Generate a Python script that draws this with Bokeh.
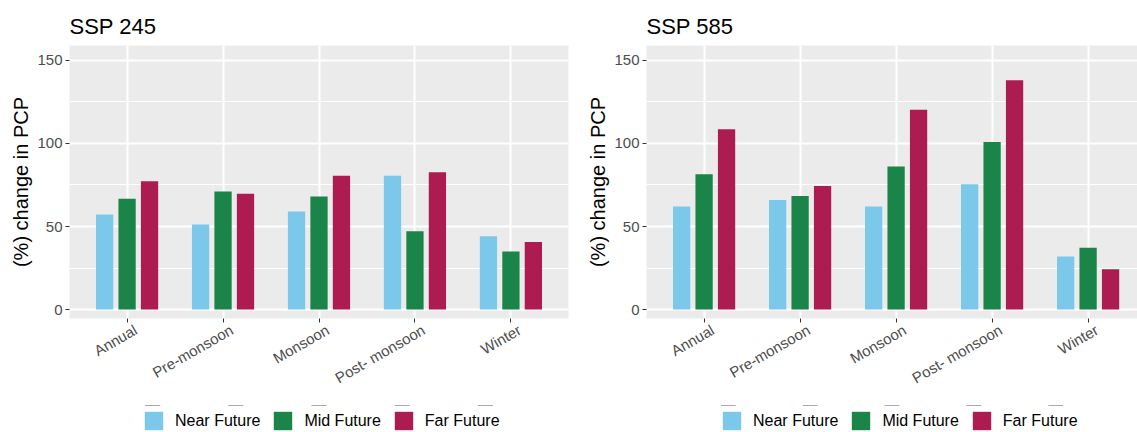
import math
from bokeh.plotting import figure
from bokeh.models import (ColumnDataSource, Legend, LegendItem, SingleIntervalTicker,
                          FixedTicker, Range1d, LinearAxis)
from bokeh.layouts import row, column
from bokeh.transform import dodge
from bokeh.embed import file_html
from bokeh.resources import INLINE

categories = ["Annual", "Pre-monsoon", "Monsoon", "Post- monsoon", "Winter"]
series = ["Near Future", "Mid Future", "Far Future"]
colors = ["#7CC8EA", "#1B8449", "#AD1C50"]

ssp245_near = [57.2, 51.2, 59.0, 80.5, 44.2]
ssp245_mid = [66.7, 71.1, 68.1, 47.2, 34.9]
ssp245_far = [77.3, 69.7, 80.5, 82.7, 40.6]

ssp585_near = [62.1, 65.9, 62.1, 75.4, 31.9]
ssp585_mid = [81.5, 68.3, 86.1, 100.9, 37.2]
ssp585_far = [108.5, 74.4, 120.3, 138.0, 24.3]

y_ticks_interval = 50
FONT = "Liberation Sans"
LABEL_SHIFT = 0.09  # rotated labels hang to the right of their tick (hjust = 1)
MAIN_H = 405
LEG_H = 27


def make_source(values):
    pos = list(range(1, len(categories) + 1))
    data = dict(x=pos, cat=categories)
    for s, v in zip(series, values):
        data[s] = v
    return pos, ColumnDataSource(data)


def make_panel(title, values, x_end, border_left, frame_width, border_right):
    pos, src = make_source(values)

    p = figure(width=border_left + frame_width + border_right, height=MAIN_H,
               x_range=Range1d(0.4, x_end), y_range=Range1d(-5.4, 159),
               output_backend="svg", toolbar_location=None,
               min_border_left=border_left, min_border_right=border_right,
               min_border_top=45, min_border_bottom=MAIN_H - 45 - 273, title=title)
    p.background_fill_color = "#EBEBEB"
    p.border_fill_color = "white"
    p.outline_line_color = None

    offsets = [-0.234, 0.0, 0.234]
    for s, c, off in zip(series, colors, offsets):
        p.vbar(x=dodge("x", off, range=p.x_range), top=s, bottom=0, width=0.18,
               source=src, fill_color=c, line_color=None)

    yt = SingleIntervalTicker(interval=y_ticks_interval, num_minor_ticks=2)
    p.yaxis.ticker = yt
    p.ygrid.ticker = yt
    p.ygrid.grid_line_color = "white"
    p.ygrid.grid_line_width = 2
    p.ygrid.minor_grid_line_color = "white"
    p.ygrid.minor_grid_line_width = 1
    xt = FixedTicker(ticks=pos)
    p.xaxis.ticker = xt
    p.xgrid.ticker = xt
    p.xgrid.grid_line_color = "white"
    p.xgrid.grid_line_width = 2

    for ax in (p.xaxis[0], p.yaxis[0]):
        ax.axis_line_color = None
        ax.major_tick_line_color = "#333333"
        ax.major_tick_out = 4
        ax.major_tick_in = 0
        ax.minor_tick_line_color = None
        ax.major_label_text_font = FONT
        ax.major_label_text_font_size = "15px"
        ax.major_label_text_color = "#4D4D4D"
        ax.major_label_standoff = 3

    # main x axis: tick marks only
    p.xaxis.major_label_overrides = {i: "" for i in pos}
    p.xaxis.major_label_text_font_size = "1px"
    p.xaxis.major_label_standoff = 0

    # label axis, shifted so that the rotated labels end right of their tick
    p.extra_x_ranges = {"lab": Range1d(0.4 - LABEL_SHIFT, x_end - LABEL_SHIFT)}
    lab = LinearAxis(x_range_name="lab", ticker=FixedTicker(ticks=pos),
                     major_label_overrides={i: c for i, c in zip(pos, categories)},
                     major_label_orientation=math.pi / 6,
                     axis_line_color=None, major_tick_line_color=None,
                     minor_tick_line_color=None, major_tick_in=0, major_tick_out=0,
                     major_label_standoff=6,
                     major_label_text_font=FONT, major_label_text_font_size="15px",
                     major_label_text_color="#4D4D4D")
    p.add_layout(lab, "below")

    p.yaxis.axis_label = "(%) change in PCP"
    p.yaxis.axis_label_text_font = FONT
    p.yaxis.axis_label_text_font_size = "20px"
    p.yaxis.axis_label_text_font_style = "normal"
    p.yaxis.axis_label_text_color = "black"
    p.yaxis.axis_label_standoff = 2

    p.title.text_font = FONT
    p.title.text_font_size = "22px"
    p.title.text_font_style = "normal"
    p.title.text_color = "black"
    p.title.offset = 0
    p.title.standoff = 13
    return p


def make_legend_fig(width, key_x, values):
    # legend strip below a panel; its bars lie outside the visible y range
    pos, src = make_source(values)
    lf = figure(width=width, height=LEG_H, output_backend="svg", toolbar_location=None,
                x_range=Range1d(0, len(categories) + 1), y_range=Range1d(-3, -2),
                x_axis_location=None, y_axis_location=None, min_border=0)
    lf.grid.visible = False
    lf.outline_line_color = None
    lf.background_fill_color = "white"
    lf.border_fill_color = "white"
    items = []
    for s, c in zip(series, colors):
        r = lf.vbar(x="x", top=s, bottom=0, width=0.18, source=src,
                    fill_color=c, line_color=None)
        items.append(LegendItem(label=s, renderers=[r]))
    legend = Legend(items=items, orientation="horizontal", location=(key_x, 0),
                    glyph_width=23, glyph_height=23, label_standoff=10, spacing=11,
                    padding=0, margin=0, border_line_color=None,
                    background_fill_alpha=0,
                    label_text_font=FONT, label_text_font_size="16px",
                    label_text_color="black")
    lf.add_layout(legend)
    return lf


p1 = make_panel("SSP 245", [ssp245_near, ssp245_mid, ssp245_far],
                x_end=5.6, border_left=69, frame_width=499, border_right=10)
p2 = make_panel("SSP 585", [ssp585_near, ssp585_mid, ssp585_far],
                x_end=0.4 + 491 / 96.0, border_left=68, frame_width=491, border_right=0)
l1 = make_legend_fig(69 + 499 + 10, 73, [ssp245_near, ssp245_mid, ssp245_far])
l2 = make_legend_fig(68 + 491, 74, [ssp585_near, ssp585_mid, ssp585_far])

layout = row(column(p1, l1), column(p2, l2))
open("out.html", "w").write(file_html(layout, INLINE))
